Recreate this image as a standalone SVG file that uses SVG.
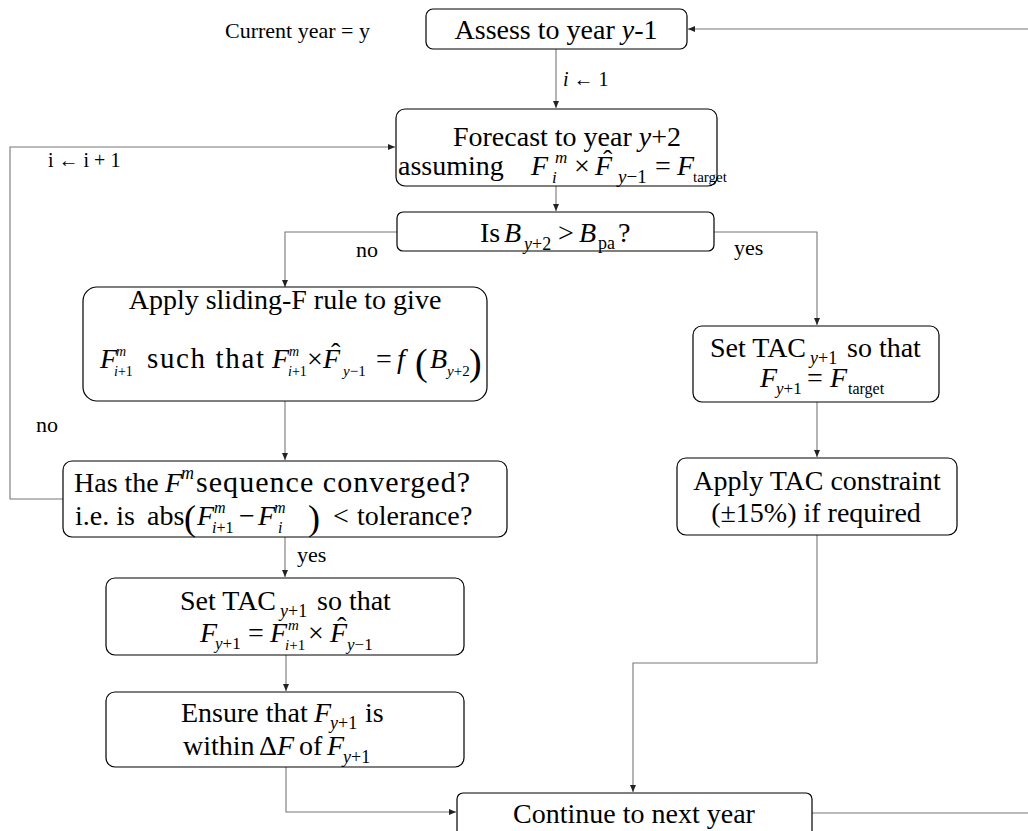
<svg xmlns="http://www.w3.org/2000/svg" width="1028" height="831" viewBox="0 0 1028 831">
<defs>
<style>
svg{font-size:28px}
text{font-family:"Liberation Serif","Times New Roman",serif;fill:#000}
.it{font-style:italic}
.lbl{font-size:22px}
.box{fill:#fff;stroke:#000;stroke-width:1.2}
.con{fill:none;stroke:#777;stroke-width:1.1}
</style>
<marker id="ah" markerUnits="userSpaceOnUse" markerWidth="8" markerHeight="8" refX="7" refY="4" orient="auto">
<path d="M0,1 L7,4 L0,7 Z" fill="#222"/>
</marker>
</defs>
<rect width="1028" height="831" fill="#fff"/>

<g id="connectors">
<path class="con" d="M556,49 V108" marker-end="url(#ah)"/>
<path class="con" d="M1028,29 H688" marker-end="url(#ah)"/>
<path class="con" d="M556,186 V211" marker-end="url(#ah)"/>
<path class="con" d="M397,232 H285 V287" marker-end="url(#ah)"/>
<path class="con" d="M714,232 H817 V325" marker-end="url(#ah)"/>
<path class="con" d="M285,401 V460" marker-end="url(#ah)"/>
<path class="con" d="M63,499 H10 V147 H395" marker-end="url(#ah)"/>
<path class="con" d="M285,537 V577" marker-end="url(#ah)"/>
<path class="con" d="M286,655 V691" marker-end="url(#ah)"/>
<path class="con" d="M286,767 V812 H456" marker-end="url(#ah)"/>
<path class="con" d="M817,402 V457" marker-end="url(#ah)"/>
<path class="con" d="M817,535 V663 H633 V792" marker-end="url(#ah)"/>
<path class="con" d="M812,813 H1028"/>
</g>

<g id="labels">
<text class="lbl" x="225" y="38">Current year = y</text>
<text x="563" y="86" font-size="20"><tspan class="it">i</tspan> ← 1</text>
<text x="48" y="167" font-size="20">i ← i + 1</text>
<text class="lbl" x="356" y="257">no</text>
<text class="lbl" x="734" y="255">yes</text>
<text class="lbl" x="36" y="432">no</text>
<text class="lbl" x="297" y="562">yes</text>
</g>

<g id="n1">
<rect class="box" x="426" y="9" width="261" height="40" rx="7"/>
<text x="556" y="39" text-anchor="middle">Assess to year <tspan class="it">y</tspan>-1</text>
</g>

<g id="n2">
<rect class="box" x="396" y="109" width="321" height="77" rx="9"/>
<text x="567" y="146" text-anchor="middle">Forecast to year <tspan class="it">y</tspan>+2</text>
<text x="398" y="175">assuming</text>
<text class="it" x="531" y="175">F</text>
<text class="it" x="555" y="163" font-size="17">m</text>
<text class="it" x="552" y="183" font-size="17">i</text>
<text x="574" y="175">×</text>
<text class="it" x="595" y="175">F</text>
<text x="603" y="169">ˆ</text>
<text x="618" y="183" font-size="19"><tspan class="it">y</tspan>−1</text>
<text x="655" y="175">=</text>
<text class="it" x="677" y="175">F</text>
<text x="693" y="182" font-size="15">target</text>
</g>

<g id="n3">
<rect class="box" x="397" y="212" width="317" height="39" rx="6"/>
<text x="480" y="242">Is</text>
<text class="it" x="504" y="242">B</text>
<text x="524" y="250" font-size="18"><tspan class="it">y</tspan>+2</text>
<text x="558" y="242">&gt;</text>
<text class="it" x="579" y="242">B</text>
<text x="598" y="249" font-size="18">pa</text>
<text x="618" y="242">?</text>
</g>

<g id="n4">
<rect class="box" x="83" y="287" width="404" height="114" rx="14"/>
<text x="285" y="309" text-anchor="middle">Apply sliding-F rule to give</text>
<text class="it" x="100" y="368">F</text>
<text class="it" x="116" y="356" font-size="14">m</text>
<text x="114" y="376" font-size="14"><tspan class="it">i</tspan>+1</text>
<text x="147" y="368" font-size="29" textLength="117" lengthAdjust="spacing">such that</text>
<text class="it" x="272" y="368">F</text>
<text class="it" x="289" y="356" font-size="14">m</text>
<text x="288" y="376" font-size="14"><tspan class="it">i</tspan>+1</text>
<text x="307" y="368">×</text>
<text class="it" x="323" y="368">F</text>
<text x="331" y="362">ˆ</text>
<text x="343" y="376" font-size="15"><tspan class="it">y</tspan>−1</text>
<text x="376" y="368">=</text>
<text class="it" x="397" y="368">f</text>
<text x="415" y="375" font-size="38">(</text>
<text class="it" x="430" y="368">B</text>
<text x="447" y="376" font-size="15"><tspan class="it">y</tspan>+2</text>
<text x="469" y="375" font-size="38">)</text>
</g>

<g id="n5">
<rect class="box" x="693" y="326" width="246" height="76" rx="9"/>
<text x="710" y="357">Set TAC</text>
<text x="810" y="364" font-size="18"><tspan class="it">y</tspan>+1</text>
<text x="847" y="357">so that</text>
<text class="it" x="760" y="387">F</text>
<text x="776" y="394" font-size="17"><tspan class="it">y</tspan>+1</text>
<text x="807" y="387">=</text>
<text class="it" x="830" y="387">F</text>
<text x="848" y="394" font-size="16">target</text>
</g>

<g id="n6">
<rect class="box" x="63" y="461" width="444" height="76" rx="9"/>
<text x="74" y="492">Has the</text>
<text class="it" x="165" y="492">F</text>
<text class="it" x="181" y="479" font-size="18">m</text>
<text x="196" y="492" font-size="30" textLength="274" lengthAdjust="spacing">sequence converged?</text>
<text x="75" y="525">i.e. is</text>
<text x="147" y="525">abs</text>
<text x="184" y="530" font-size="36">(</text>
<text class="it" x="197" y="525">F</text>
<text class="it" x="214" y="513" font-size="16">m</text>
<text x="212" y="533" font-size="16"><tspan class="it">i</tspan>+1</text>
<text x="239" y="525">−</text>
<text class="it" x="258" y="525">F</text>
<text class="it" x="274" y="513" font-size="16">m</text>
<text class="it" x="278" y="533" font-size="16">i</text>
<text x="308" y="530" font-size="36">)</text>
<text x="333" y="525">&lt;</text>
<text x="357" y="525">tolerance</text>
<text x="460" y="525">?</text>
</g>

<g id="n7">
<rect class="box" x="106" y="578" width="358" height="77" rx="9"/>
<text x="180" y="610">Set TAC</text>
<text x="280" y="617" font-size="18"><tspan class="it">y</tspan>+1</text>
<text x="317" y="610">so that</text>
<text class="it" x="200" y="642">F</text>
<text x="215" y="649" font-size="17"><tspan class="it">y</tspan>+1</text>
<text x="248" y="642">=</text>
<text class="it" x="270" y="642">F</text>
<text class="it" x="288" y="630" font-size="15">m</text>
<text x="285" y="650" font-size="15"><tspan class="it">i</tspan>+1</text>
<text x="308" y="642">×</text>
<text class="it" x="330" y="642">F</text>
<text x="337" y="636">ˆ</text>
<text x="347" y="650" font-size="17"><tspan class="it">y</tspan>−1</text>
</g>

<g id="n8">
<rect class="box" x="106" y="692" width="358" height="75" rx="9"/>
<text x="181" y="722">Ensure that</text>
<text class="it" x="314" y="722">F</text>
<text x="330" y="729" font-size="18"><tspan class="it">y</tspan>+1</text>
<text x="365" y="722">is</text>
<text x="183" y="755">within</text>
<text x="259" y="755">Δ<tspan class="it">F</tspan></text>
<text x="299" y="755">of</text>
<text class="it" x="327" y="755">F</text>
<text x="343" y="763" font-size="18"><tspan class="it">y</tspan>+1</text>
</g>

<g id="n9">
<rect class="box" x="457" y="793" width="355" height="60" rx="6"/>
<text x="634" y="823" text-anchor="middle">Continue to next year</text>
</g>

<g id="n10">
<rect class="box" x="677" y="458" width="280" height="77" rx="9"/>
<text x="817" y="490" text-anchor="middle">Apply TAC constraint</text>
<text x="816" y="522" text-anchor="middle">(±15%) if required</text>
</g>
</svg>
